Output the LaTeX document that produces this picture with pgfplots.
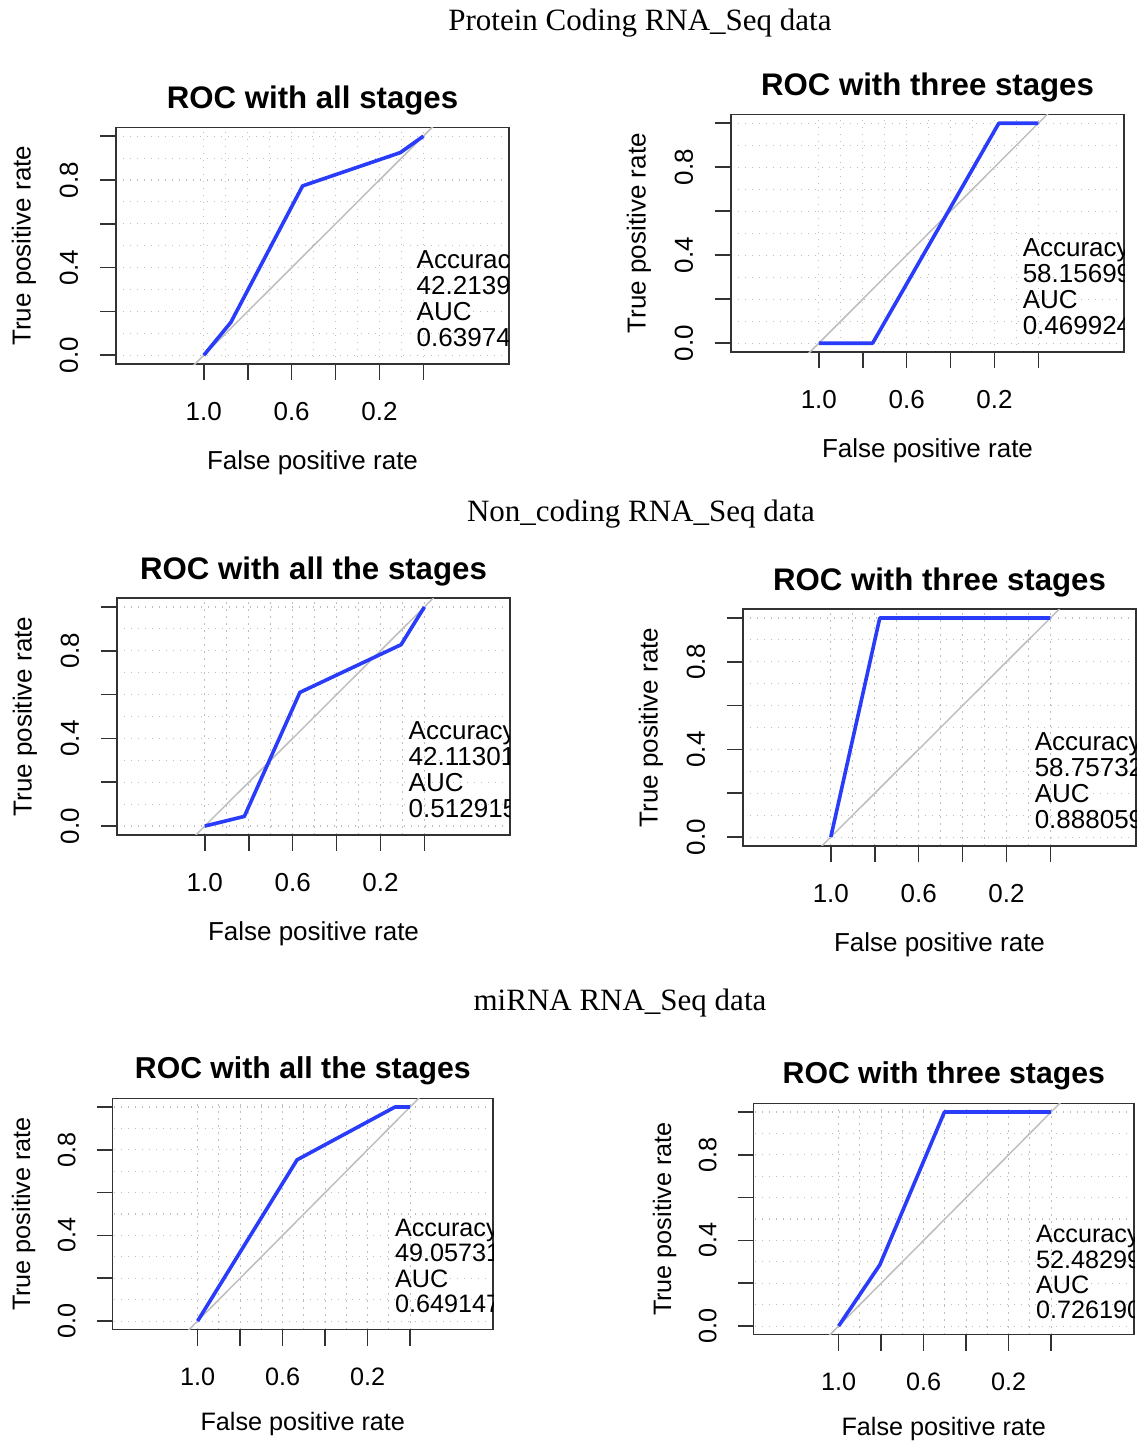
\documentclass[border=0pt]{standalone}
\usepackage{fontspec}
\setmainfont{Liberation Sans}
\newfontfamily\seriffont{Liberation Serif}
\usepackage{pgfplots}
\pgfplotsset{compat=1.18}

\definecolor{rocblue}{RGB}{40,60,250}
\definecolor{diaggray}{RGB}{190,190,190}
\definecolor{gridgray}{RGB}{190,190,190}
\definecolor{boxgray}{RGB}{50,50,50}

\newcommand{\lab}{\fontsize{13pt}{13pt}\selectfont}
\newcommand{\labs}{\fontsize{12.6pt}{12.6pt}\selectfont}
\newcommand{\ttl}{\fontsize{15.6pt}{18pt}\selectfont\bfseries}
\newcommand{\ttls}{\fontsize{15.1pt}{18pt}\selectfont\bfseries}
\newcommand{\sect}{\fontsize{15.5pt}{18pt}\selectfont\seriffont}

% R-style ROC panel: reversed x, box wider than the data range
\pgfplotsset{
  roc/.style={
    scale only axis, anchor=south west,
    x dir=reverse, xmin=-0.39, xmax=1.40, ymin=-0.04, ymax=1.04,
    xtick={0,0.2,0.4,0.6,0.8,1}, xticklabels={,0.2,,0.6,,1.0},
    ytick={0,0.2,0.4,0.6,0.8,1}, yticklabels={0.0,,0.4,,0.8,},
    minor x tick num=1, minor y tick num=1,
    grid=both,
    major grid style={gridgray, line width=0.55pt, dash pattern=on 0.7pt off 2.8pt},
    minor grid style={gridgray, line width=0.55pt, dash pattern=on 0.7pt off 2.8pt},
    tick align=outside, major tick length=8pt, minor tick length=0pt,
    xtick pos=bottom, ytick pos=left,
    every tick/.style={boxgray, line width=0.8pt},
    axis line style={boxgray, line width=0.85pt},
    xticklabel style={font=\lab, anchor=center, yshift=-16pt},
    yticklabel style={font=\lab, rotate=90, anchor=center, yshift=15.5pt},
    xlabel={False positive rate}, ylabel={True positive rate},
    xlabel style={font=\lab, at={(axis description cs:0.5,0)}, anchor=center, yshift=-49.5pt},
    ylabel style={font=\lab, at={(axis description cs:0,0.5)}, anchor=center, yshift=46pt},
    title style={font=\ttl, at={(axis description cs:0.5,1)}, anchor=center, yshift=7.5pt},
  },
  small/.style={
    xticklabel style={font=\labs, yshift=0.5pt},
    yticklabel style={font=\labs, yshift=-0.5pt},
    xlabel style={font=\labs, yshift=2.5pt},
    ylabel style={font=\labs, yshift=-1.5pt},
    title style={font=\ttls, yshift=0.5pt},
  },
}

\begin{document}
\begin{tikzpicture}
\useasboundingbox (0,0) rectangle (573.5pt,-720.5pt);

\node[font=\sect] at (320pt,-11.5pt) {Protein Coding RNA\_Seq data};
\node[font=\sect] at (320.5pt,-257pt) {Non\_coding RNA\_Seq data};
\node[font=\sect] at (310pt,-501.5pt) {miRNA RNA\_Seq data};

% Protein coding, all stages
\begin{axis}[roc, at={(58pt,-182pt)}, width=196.5pt, height=118.3pt,
  title={ROC with all stages}]
\addplot[diaggray, line width=0.75pt] coordinates {(1.5,-0.5) (-0.5,1.5)};
\addplot[rocblue, line width=1.8pt, line join=round] coordinates {
  (1,0) (0.877,0.15) (0.55,0.773) (0.105,0.925) (0,1)};
\node[anchor=west, align=left, inner sep=0pt, font=\lab] at (axis cs:0.032,0.256)
  {Accuracy\\42.21393\\AUC\\0.639743};
\end{axis}

% Protein coding, three stages
\begin{axis}[roc, at={(365.5pt,-176pt)}, width=196.5pt, height=118.8pt,
  title={ROC with three stages}]
\addplot[diaggray, line width=0.75pt] coordinates {(1.5,-0.5) (-0.5,1.5)};
\addplot[rocblue, line width=1.8pt, line join=round] coordinates {
  (1,0) (0.755,0) (0.18,1) (0,1)};
\node[anchor=west, align=left, inner sep=0pt, font=\lab] at (axis cs:0.073,0.255)
  {Accuracy\\58.15699\\AUC\\0.469924};
\end{axis}

% Non-coding, all stages
\begin{axis}[roc, at={(58.5pt,-417.4pt)}, width=196.5pt, height=118.3pt,
  title={ROC with all the stages}]
\addplot[diaggray, line width=0.75pt] coordinates {(1.5,-0.5) (-0.5,1.5)};
\addplot[rocblue, line width=1.8pt, line join=round] coordinates {
  (1,0) (0.82,0.044) (0.567,0.61) (0.106,0.828) (0,1)};
\node[anchor=west, align=left, inner sep=0pt, font=\lab] at (axis cs:0.073,0.258)
  {Accuracy\\42.11301\\AUC\\0.512915};
\end{axis}

% Non-coding, three stages
\begin{axis}[roc, at={(371.5pt,-422.9pt)}, width=196.5pt, height=118.3pt,
  title={ROC with three stages}]
\addplot[diaggray, line width=0.75pt] coordinates {(1.5,-0.5) (-0.5,1.5)};
\addplot[rocblue, line width=1.8pt, line join=round] coordinates {
  (1,0) (0.777,1) (0,1)};
\node[anchor=west, align=left, inner sep=0pt, font=\lab] at (axis cs:0.073,0.256)
  {Accuracy\\58.75732\\AUC\\0.888059};
\end{axis}

% miRNA, all stages
\begin{axis}[roc, small, at={(56.3pt,-664.8pt)}, width=190.2pt, height=115.6pt,
  title={ROC with all the stages}]
\addplot[diaggray, line width=0.75pt] coordinates {(1.5,-0.5) (-0.5,1.5)};
\addplot[rocblue, line width=1.8pt, line join=round] coordinates {
  (1,0) (0.532,0.753) (0.071,1) (0,1)};
\node[anchor=west, align=left, inner sep=0pt, font=\labs] at (axis cs:0.073,0.257)
  {Accuracy\\49.05731\\AUC\\0.649147};
\end{axis}

% miRNA, three stages
\begin{axis}[roc, small, at={(376.8pt,-667.3pt)}, width=190.2pt, height=115.6pt,
  title={ROC with three stages}]
\addplot[diaggray, line width=0.75pt] coordinates {(1.5,-0.5) (-0.5,1.5)};
\addplot[rocblue, line width=1.8pt, line join=round] coordinates {
  (1,0) (0.806,0.286) (0.502,1) (0,1)};
\node[anchor=west, align=left, inner sep=0pt, font=\labs] at (axis cs:0.073,0.252)
  {Accuracy\\52.48299\\AUC\\0.726190};
\end{axis}
\end{tikzpicture}
\end{document}
